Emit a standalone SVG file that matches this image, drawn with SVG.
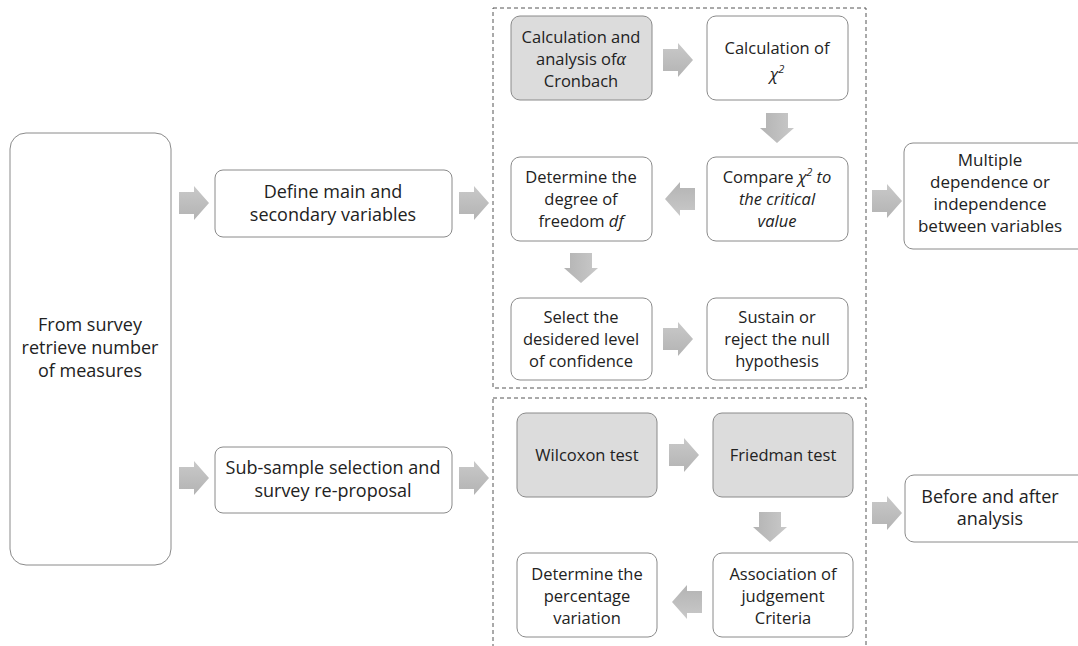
<svg xmlns="http://www.w3.org/2000/svg" width="1078" height="646" viewBox="0 0 1078 646">
<defs>
<linearGradient id="ag" x1="0" y1="0" x2="0" y2="1"><stop offset="0" stop-color="#c9c9c9"/><stop offset="1" stop-color="#b3b3b3"/></linearGradient>
<path id="arr" d="M-15,-11 H0 V-17 L15,0 L0,17 V11 H-15 Z"/>
<style>
.n{fill:#fff;stroke:#8a8a8a;stroke-width:1}
.g{fill:#dcdcdc;stroke:#8a8a8a;stroke-width:1}
.d{fill:none;stroke:#555;stroke-width:1;stroke-dasharray:4 3}
.t{font-family:"Open Sans","Liberation Sans",sans-serif;font-size:18px;fill:#222;text-anchor:middle}
.s{font-size:16.5px}
.m{font-size:17px}
.a{fill:url(#ag)}
.i{font-style:italic}
</style>
</defs>
<rect width="1078" height="646" fill="#fff"/>
<g id="frames">
<rect class="d" x="493" y="8" width="373" height="380"/>
<rect class="d" x="493" y="398" width="373" height="270"/>
</g>
<g id="connectors" class="a">
<use href="#arr" transform="translate(194,203)"/>
<use href="#arr" transform="translate(474,203)"/>
<use href="#arr" transform="translate(194,478)"/>
<use href="#arr" transform="translate(474,478)"/>
<use href="#arr" transform="translate(678,60)"/>
<use href="#arr" transform="translate(777,128) rotate(90)"/>
<use href="#arr" transform="translate(680,199) rotate(180)"/>
<use href="#arr" transform="translate(581,268) rotate(90)"/>
<use href="#arr" transform="translate(678,339)"/>
<use href="#arr" transform="translate(887,201)"/>
<use href="#arr" transform="translate(684,455)"/>
<use href="#arr" transform="translate(770,527) rotate(90)"/>
<use href="#arr" transform="translate(687,602) rotate(180)"/>
<use href="#arr" transform="translate(887,513)"/>
</g>
<g id="survey">
<rect class="n" x="10" y="133" width="161" height="432" rx="16"/>
<text class="t" x="90" y="331">From survey</text>
<text class="t" x="90" y="354">retrieve number</text>
<text class="t" x="90" y="377">of measures</text>
</g>
<g id="define">
<rect class="n" x="215" y="170" width="237" height="67" rx="8"/>
<text class="t" x="333" y="198">Define main and</text>
<text class="t" x="333" y="221">secondary variables</text>
</g>
<g id="subsample">
<rect class="n" x="215" y="447" width="237" height="66" rx="8"/>
<text class="t" x="333" y="474">Sub-sample selection and</text>
<text class="t" x="333" y="497">survey re-proposal</text>
</g>
<g id="alpha">
<rect class="g" x="511" y="16" width="141" height="84" rx="9"/>
<text class="t s" x="581" y="43">Calculation and</text>
<text class="t s" x="581" y="65">analysis of<tspan font-family="Liberation Serif,serif" font-style="italic" font-size="18">α</tspan></text>
<text class="t s" x="581" y="87">Cronbach</text>
</g>
<g id="chi">
<rect class="n" x="707" y="16" width="141" height="84" rx="9"/>
<text class="t s" x="777" y="54">Calculation of</text>
<text class="t s i" x="777" y="80">χ<tspan font-size="11" dy="-7">2</tspan></text>
</g>
<g id="compare">
<rect class="n" x="707" y="157" width="141" height="84" rx="9"/>
<text class="t s" x="777" y="183">Compare <tspan class="i">χ</tspan><tspan class="i" font-size="11" dy="-7">2</tspan><tspan class="i" dy="7"> to</tspan></text>
<text class="t s i" x="777" y="205">the critical</text>
<text class="t s i" x="777" y="227">value</text>
</g>
<g id="degree">
<rect class="n" x="511" y="157" width="141" height="84" rx="9"/>
<text class="t s" x="581" y="183">Determine the</text>
<text class="t s" x="581" y="205">degree of</text>
<text class="t s" x="581" y="227">freedom <tspan class="i">df</tspan></text>
</g>
<g id="select">
<rect class="n" x="511" y="298" width="141" height="82" rx="9"/>
<text class="t s" x="581" y="323">Select the</text>
<text class="t s" x="581" y="345">desidered level</text>
<text class="t s" x="581" y="367">of confidence</text>
</g>
<g id="sustain">
<rect class="n" x="707" y="298" width="141" height="82" rx="9"/>
<text class="t s" x="777" y="323">Sustain or</text>
<text class="t s" x="777" y="345">reject the null</text>
<text class="t s" x="777" y="367">hypothesis</text>
</g>
<g id="multiple">
<rect class="n" x="904" y="143" width="190" height="106" rx="9"/>
<text class="t m" x="990" y="166">Multiple</text>
<text class="t m" x="990" y="188">dependence or</text>
<text class="t m" x="990" y="210">independence</text>
<text class="t m" x="990" y="232">between variables</text>
</g>
<g id="wilcoxon">
<rect class="g" x="517" y="413" width="140" height="84" rx="9"/>
<text class="t s" x="587" y="461">Wilcoxon test</text>
</g>
<g id="friedman">
<rect class="g" x="713" y="413" width="140" height="84" rx="9"/>
<text class="t s" x="783" y="461">Friedman test</text>
</g>
<g id="association">
<rect class="n" x="713" y="553" width="140" height="84" rx="9"/>
<text class="t s" x="783" y="580">Association of</text>
<text class="t s" x="783" y="602">judgement</text>
<text class="t s" x="783" y="624">Criteria</text>
</g>
<g id="percentage">
<rect class="n" x="517" y="553" width="140" height="84" rx="9"/>
<text class="t s" x="587" y="580">Determine the</text>
<text class="t s" x="587" y="602">percentage</text>
<text class="t s" x="587" y="624">variation</text>
</g>
<g id="before">
<rect class="n" x="905" y="475" width="190" height="67" rx="9"/>
<text class="t" x="990" y="503">Before and after</text>
<text class="t" x="990" y="525">analysis</text>
</g>
</svg>
